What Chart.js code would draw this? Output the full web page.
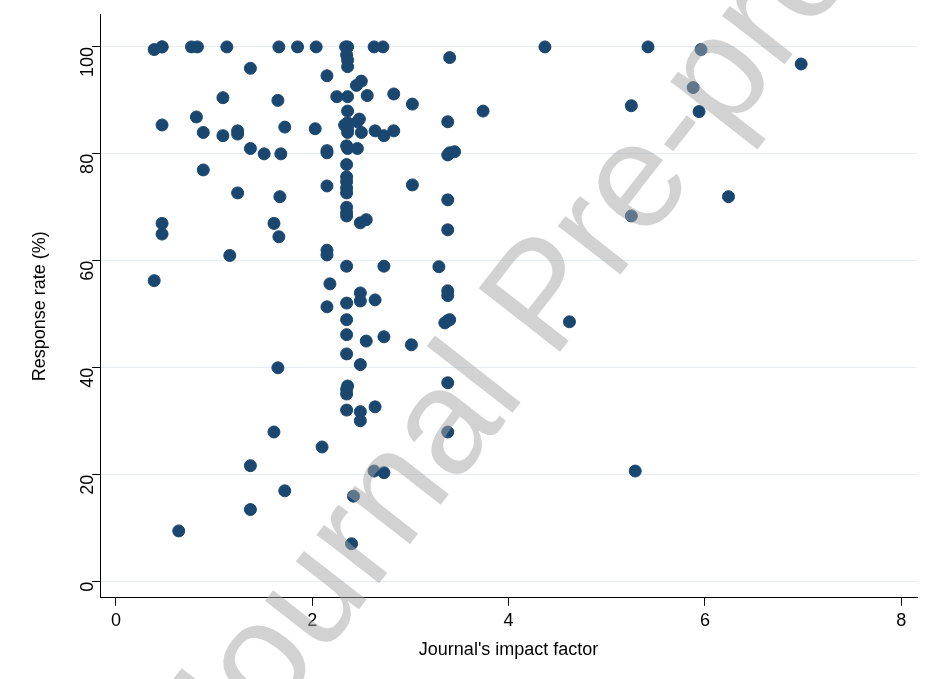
<!DOCTYPE html>
<html><head><meta charset="utf-8">
<script src="https://cdn.jsdelivr.net/npm/chart.js@4/dist/chart.umd.min.js"></script>
<style>body{margin:0;background:#fff}#wrap{width:927px;height:679px}</style>
</head><body><div id="wrap"><canvas id="c"></canvas></div>
<script>
// journal impact factor vs response rate (%)
var impactFactor = [
0.39,0.47,0.47,0.77,0.83,1.13,1.66,1.85,2.04,2.34,2.36,2.63,2.72,4.37,5.42,5.96,
1.37,2.35,2.36,2.36,3.40,6.98,2.15,2.50,2.45,1.09,1.65,2.25,2.36,2.56,2.83,3.02,5.25,5.88,
0.82,0.47,3.74,5.94,2.36,2.48,2.46,2.36,2.33,3.38,1.72,2.03,0.89,1.24,1.24,1.09,2.50,2.64,2.73,2.83,2.36,2.36,
1.37,1.51,1.68,2.15,2.15,2.35,2.36,2.46,3.38,3.40,3.45,0.89,2.35,2.35,2.35,2.35,2.35,2.15,3.02,1.24,1.67,6.24,3.38,
2.35,2.35,2.35,2.55,2.49,0.47,1.61,0.47,1.66,3.38,5.25,2.15,2.15,1.16,0.39,2.35,2.73,3.29,2.18,2.49,2.49,2.64,2.35,2.15,
3.38,3.38,3.38,3.35,3.40,2.35,4.62,2.35,2.55,2.73,3.01,2.35,2.49,1.65,2.36,2.35,2.35,3.38,2.35,2.49,2.49,2.64,1.61,3.38,
2.10,1.37,2.63,2.73,5.29,1.72,2.42,1.37,0.64,2.40
];
var responseRate = [
99.5,100,100,100,100,100,100,100,100,100,100,100,100,100,100,99.5,
96,98.5,97.5,96.3,98,96.8,94.6,93.6,92.8,90.5,90,90.7,90.7,90.9,91.2,89.3,89,92.4,
86.9,85.4,88,87.9,88,86.5,86,85.8,85.4,86,85,84.7,84,84.3,83.7,83.4,84,84.3,83.4,84.3,84.7,84,
81,80,80,80.2,80.6,81.5,81,81,79.8,80.2,80.4,77,78,75.7,74.8,73.6,72.7,74,74.2,72.7,72,72,71.4,
70,69,68.4,67.7,67.1,67,67,65,64.5,65.8,68.4,62,61.1,61,56.3,59,59,58.9,55.7,54,52.5,52.7,52.1,51.4,
54.4,53.5,48.8,48.4,49,49,48.6,46.2,45,45.8,44.3,42.6,40.6,40,36.6,36,35.1,37.2,32.1,31.8,30.1,32.7,28,28,
25.2,21.7,20.7,20.4,20.7,17,16,13.5,9.5,7.1
];
var xTicks = [0, 2, 4, 6, 8];
var yTicks = [0, 20, 40, 60, 80, 100];

var points = impactFactor.map(function (x, i) { return {x: x, y: responseRate[i]}; });

var watermark = {
    id: 'watermark',
    afterDraw: function (chart) {
        var ctx = chart.ctx;
        ctx.save();
        ctx.translate(548, 300);
        ctx.rotate(-52 * Math.PI / 180);
        ctx.font = '150px "Liberation Sans"';
        ctx.fillStyle = 'rgba(165,165,165,0.5)';
        ctx.textAlign = 'center';
        ctx.textBaseline = 'middle';
        ctx.fillText('Journal Pre-proof', 0, 0);
        ctx.restore();
    }
};

new Chart(document.getElementById('c'), {
    type: 'scatter',
    data: {datasets: [{
        data: points,
        backgroundColor: '#1a476f',
        borderColor: '#1a476f',
        pointRadius: 6,
        pointHoverRadius: 6
    }]},
    options: {
        responsive: true,
        maintainAspectRatio: false,
        animation: false,
        layout: {padding: {top: 0, right: 10, bottom: 14, left: 25}},
        plugins: {legend: {display: false}, tooltip: {enabled: false}},
        scales: {
            x: {
                min: -0.16, max: 8.16,
                afterBuildTicks: function (s) { s.ticks = xTicks.map(function (v) { return {value: v}; }); },
                grid: {drawOnChartArea: false, color: '#000', tickLength: 8},
                border: {color: '#000'},
                ticks: {color: '#000', font: {family: 'Liberation Sans', size: 18}, padding: 4},
                title: {display: true, text: "Journal's impact factor", color: '#000',
                        font: {family: 'Liberation Sans', size: 18}}
            },
            y: {
                min: -3, max: 106,
                afterBuildTicks: function (s) { s.ticks = yTicks.map(function (v) { return {value: v}; }); },
                grid: {color: '#e6eef2', tickColor: '#000', tickLength: 8},
                border: {color: '#000'},
                ticks: {color: '#000', font: {family: 'Liberation Sans', size: 18}, minRotation: 90, maxRotation: 90, padding: 4},
                title: {display: true, text: 'Response rate (%)', color: '#000', padding: {top: 4, bottom: 12},
                        font: {family: 'Liberation Sans', size: 18}}
            }
        }
    },
    plugins: [watermark]
});
</script></body></html>
